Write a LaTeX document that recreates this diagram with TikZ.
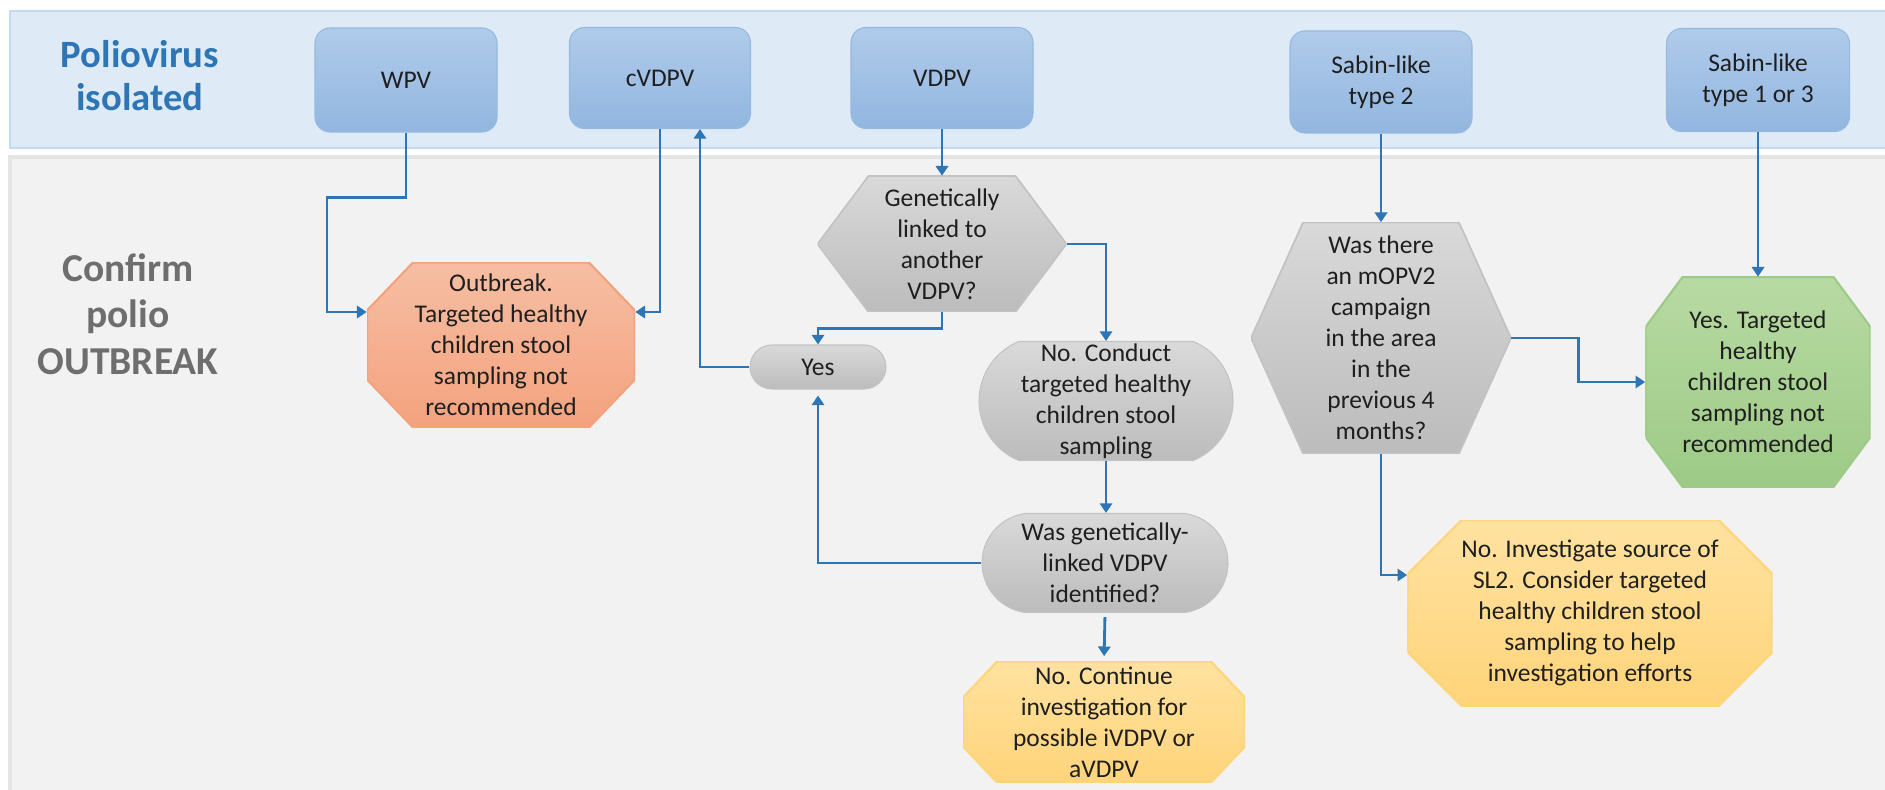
\documentclass[tikz,border=0pt]{standalone}
\usepackage{fontspec}
\setmainfont{Carlito}
\usepackage{tikz}
\usetikzlibrary{arrows.meta,shapes.misc}
\definecolor{cblue}{RGB}{46,117,182}
\definecolor{cgreyt}{RGB}{110,110,110}
\definecolor{cband}{RGB}{222,235,247}
\definecolor{cbandline}{RGB}{197,217,240}
\definecolor{cback}{RGB}{242,242,242}
\definecolor{cbackline}{RGB}{228,228,228}
\definecolor{ctoptop}{RGB}{176,203,234}
\definecolor{ctopbot}{RGB}{146,182,224}
\definecolor{ctopline}{RGB}{150,185,225}
\definecolor{cgreytop}{RGB}{217,217,217}
\definecolor{cgreybot}{RGB}{188,188,188}
\definecolor{corgtop}{RGB}{246,190,163}
\definecolor{corgbot}{RGB}{244,162,126}
\definecolor{cyeltop}{RGB}{255,226,160}
\definecolor{cyelbot}{RGB}{255,212,122}
\definecolor{cgrntop}{RGB}{184,218,163}
\definecolor{cgrnbot}{RGB}{157,202,134}

\begin{document}
\begin{tikzpicture}[x=0.02cm,y=-0.02cm,>={Triangle[length=5.5pt,width=7pt]},
  link/.style={->,draw=cblue,line width=1.6pt},
  boxdim/.style 2 args={minimum width=#1*0.02cm,minimum height=#2*0.02cm},
  txt/.style={inner sep=0pt,align=center,text=black!88,font=\fontsize{14.5}{17.6}\selectfont},
  top node/.style={txt,rectangle,rounded corners=0.3cm,top color=ctoptop,bottom color=ctopbot,draw=ctopline,line width=0.6pt},
  round node/.style={txt,rounded rectangle,rounded rectangle arc length=#1,top color=cgreytop,bottom color=cgreybot,draw=cgreybot!90,line width=0.6pt},
  hex node/.style={txt,rectangle,path picture={
    \shade[top color=cgreytop,bottom color=cgreybot,draw=cgreybot!90,line width=1pt]
      (path picture bounding box.west) -- ([xshift=#1*0.02cm]path picture bounding box.north west)
      -- ([xshift=-#1*0.02cm]path picture bounding box.north east) -- (path picture bounding box.east)
      -- ([xshift=-#1*0.02cm]path picture bounding box.south east)
      -- ([xshift=#1*0.02cm]path picture bounding box.south west) -- cycle;}},
  oct node/.style n args={4}{txt,rectangle,path picture={
    \shade[top color=#1,bottom color=#2,draw=#2,line width=1.2pt]
      ([xshift=#3*0.02cm]path picture bounding box.north west)
      -- ([xshift=-#3*0.02cm]path picture bounding box.north east)
      -- ([yshift=-#4*0.02cm]path picture bounding box.north east)
      -- ([yshift=#4*0.02cm]path picture bounding box.south east)
      -- ([xshift=-#3*0.02cm]path picture bounding box.south east)
      -- ([xshift=#3*0.02cm]path picture bounding box.south west)
      -- ([yshift=#4*0.02cm]path picture bounding box.south west)
      -- ([yshift=-#4*0.02cm]path picture bounding box.north west) -- cycle;}}]
  \useasboundingbox (0,0) rectangle (1885,790);

  % two bands
  \filldraw[fill=cband,draw=cbandline,line width=1pt] (10,11) rectangle (1890,148);
  \fill[cback] (10,156) rectangle (1890,795);
  \draw[cbackline,line width=2pt] (10,795) -- (10,157) -- (1890,157);

  \node[font=\bfseries\fontsize{22}{24.5}\selectfont,text=cblue,align=center] (head1) at (140,76) {Poliovirus\\isolated};
  \node[font=\bfseries\fontsize{22.5}{26.6}\selectfont,text=cgreyt,align=center] (head2) at (128,314) {Confirm\\polio\\OUTBREAK};

  % isolated virus
  \node[top node,boxdim={182}{104}] (wpv) at (406,80) {WPV};
  \node[top node,boxdim={181}{101}] (cvdpv) at (660,78) {cVDPV};
  \node[top node,boxdim={182}{101}] (vdpv) at (942,78) {VDPV};
  \node[top node,boxdim={182}{102}] (sab2) at (1381,82) {Sabin-like\\type 2};
  \node[top node,boxdim={183}{103}] (sab13) at (1758,80) {Sabin-like\\type 1 or 3};

  % decisions and outcomes
  \node[oct node={corgtop}{corgbot}{46}{48},boxdim={268}{165}] (outbrk) at (501,345) {Outbreak.\\Targeted healthy\\children stool\\sampling not\\recommended};
  \node[hex node=51,boxdim={249}{136}] (linked) at (942,244) {Genetically\\linked to\\another\\VDPV?};
  \node[round node=180,boxdim={136}{44}] (yes) at (818,367) {Yes};
  \node[round node=135,boxdim={254}{119}] (conduct) at (1106,401) {No. Conduct\\targeted healthy\\children stool\\sampling};
  \node[round node=165,boxdim={246}{99}] (wasid) at (1105,563) {Was genetically-\\linked VDPV\\identified?};
  \node[oct node={cyeltop}{cyelbot}{34}{36},boxdim={282}{121}] (contin) at (1104,722) {No. Continue\\investigation for\\possible iVDPV or\\aVDPV};
  \node[hex node=52,boxdim={260}{231}] (mopv) at (1381,338) {Was there\\an mOPV2\\campaign\\in the area\\in the\\previous 4\\months?};
  \node[oct node={cgrntop}{cgrnbot}{37}{50},boxdim={225}{210}] (green) at (1758,382) {Yes. Targeted\\healthy\\children stool\\sampling not\\recommended};
  \node[oct node={cyeltop}{cyelbot}{54}{54},boxdim={365}{186}] (slsrc) at (1590,613) {No. Investigate source of\\SL2. Consider targeted\\healthy children stool\\sampling to help\\investigation efforts};

  % connectors
  \draw[link] (wpv.south) -- ++(0,65) -- ++(-79,0) |- ([yshift=0.66cm]outbrk.west);
  \draw[link] (cvdpv.south) |- ([yshift=0.66cm]outbrk.east);
  \draw[link] (yes.west) -| ([xshift=0.8cm]cvdpv.south);
  \draw[link] (vdpv.south) -- (linked.north);
  \draw[link] (linked.south) -- ++(0,16) -| (yes.north);
  \draw[link] (linked.east) -| (conduct.north);
  \draw[link] (conduct.south) -- (conduct.south |- wasid.north);
  \draw[link,shorten >=0.12cm] (wasid.west) -| (yes.south);
  \draw[link,shorten <=0.08cm,shorten >=0.1cm] (wasid.south) -- (contin.north);
  \draw[link] (sab2.south) -- (mopv.north);
  \draw[link] (mopv.east) -- ++(67,0) |- (green.west);
  \draw[link] (mopv.south) |- ([yshift=0.76cm]slsrc.west);
  \draw[link] (sab13.south) -- (green.north);
\end{tikzpicture}
\end{document}
